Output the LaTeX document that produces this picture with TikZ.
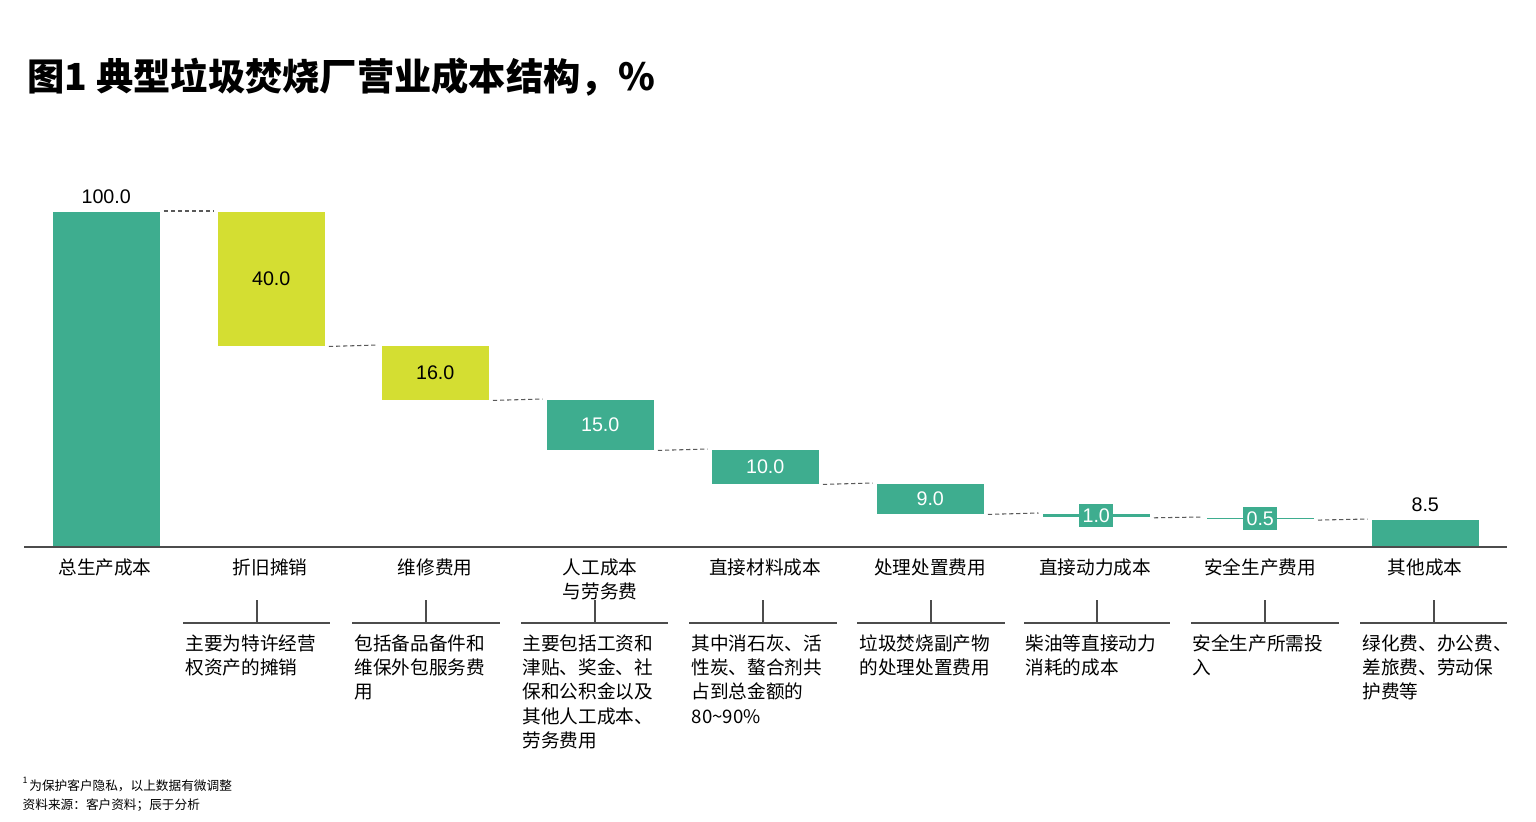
\documentclass[tikz,border=0pt]{standalone}
\usepackage{fontspec}
\setmainfont{Liberation Sans}
\newfontfamily\cjk{Noto Sans CJK SC}
\usetikzlibrary{positioning}
\definecolor{teal}{RGB}{62,173,143}
\definecolor{lime}{RGB}{212,222,50}
\tikzset{
  bar/.style={draw=none, inner sep=0pt, minimum width=1.07cm, anchor=north west},
  val/.style={font=\fontsize{5.6}{6}\selectfont, inner sep=1pt},
  link/.style={dash pattern=on 1.2pt off 0.8pt, gray!70!black, line width=0.3pt},
  cat/.style={font=\cjk\fontsize{5.3}{6.9}\selectfont, align=center, anchor=north, inner sep=0pt},
  desc/.style={font=\cjk\fontsize{5.3}{6.9}\selectfont, align=left, anchor=north west, inner sep=0pt},
  brk/.style={gray!60!black, line width=0.4pt}
}
\begin{document}
\begin{tikzpicture}[x=0.01cm, y=-0.01cm]
    \useasboundingbox (0,0) rectangle (1536,822);

    % Title
    \node (title) [anchor=west, inner sep=0pt, font=\cjk\bfseries\fontsize{10.6}{12}\selectfont] at (27,77) {图1 典型垃圾焚烧厂营业成本结构，\%};

    % Bars
    \node (bar1) [bar, fill=teal, minimum height=3.36cm] at (52,211) {};
    \node (bar2) [bar, fill=lime, minimum height=1.34cm] at (217,211) {};
    \node (bar3) [bar, fill=lime, minimum height=0.54cm] at (381,345) {};
    \node (bar4) [bar, fill=teal, minimum height=0.50cm] at (546,399) {};
    \node (bar5) [bar, fill=teal, minimum height=0.34cm] at (711,449) {};
    \node (bar6) [bar, fill=teal, minimum height=0.30cm] at (876,483) {};
    \node (bar7) [bar, fill=teal, minimum height=0.034cm] at (1042,513) {};
    \node (bar8) [bar, fill=teal, minimum height=0.017cm] at (1206,517) {};
    \node (bar9) [bar, fill=teal, minimum height=0.285cm] at (1371,519) {};

    % Values
    \node [val, above=1pt of bar1] {100.0};
    \node [val] at (bar2) {40.0};
    \node [val] at (bar3) {16.0};
    \node [val, text=white] at (bar4) {15.0};
    \node [val, text=white] at (bar5) {10.0};
    \node [val, text=white] at (bar6) {9.0};
    \node [val, text=white, fill=teal, minimum width=0.34cm, minimum height=0.23cm] at (bar7) {1.0};
    \node [val, text=white, fill=teal, minimum width=0.33cm, minimum height=0.23cm] at (bar8) {0.5};
    \node [val, above=1pt of bar9] {8.5};

    % Links
    \draw[link] ([xshift=1pt]bar1.north east) -- ([xshift=-1pt]bar2.north west);
    \draw[link] ([xshift=1pt]bar2.south east) -- ([xshift=-1pt]bar3.north west);
    \draw[link] ([xshift=1pt]bar3.south east) -- ([xshift=-1pt]bar4.north west);
    \draw[link] ([xshift=1pt]bar4.south east) -- ([xshift=-1pt]bar5.north west);
    \draw[link] ([xshift=1pt]bar5.south east) -- ([xshift=-1pt]bar6.north west);
    \draw[link] ([xshift=1pt]bar6.south east) -- ([xshift=-1pt]bar7.north west);
    \draw[link] ([xshift=1pt]bar7.south east) -- ([xshift=-1pt]bar8.north west);
    \draw[link] ([xshift=1pt]bar8.south east) -- ([xshift=-1pt]bar9.north west);

    % Axis
    \coordinate (axl) at (24,547);
    \coordinate (axr) at (1507,547);
    \draw[gray!60!black, line width=0.5pt] (axl) -- (axr);

    % Categories
    \node (cat1) [cat] at (105,558) {总生产成本};
    \node (cat2) [cat] at (270,558) {折旧摊销};
    \node (cat3) [cat] at (435,558) {维修费用};
    \node (cat4) [cat] at (600,558) {人工成本\\与劳务费};
    \node (cat5) [cat] at (765,558) {直接材料成本};
    \node (cat6) [cat] at (930,558) {处理处置费用};
    \node (cat7) [cat] at (1095,558) {直接动力成本};
    \node (cat8) [cat] at (1260,558) {安全生产费用};
    \node (cat9) [cat] at (1425,558) {其他成本};

    % Brackets
    \foreach \l/\r/\m in {183/330/257, 352/500/426, 521/668/595, 689/837/763,
                          857/1005/931, 1024/1170/1097, 1191/1339/1265, 1360/1507/1434}
        \draw[brk] (\l,623) -- (\r,623) (\m,623) -- (\m,600);

    % Descriptions
    \node (desc2) [desc] at (185,634) {主要为特许经营\\权资产的摊销};
    \node (desc3) [desc] at (354,634) {包括备品备件和\\维保外包服务费\\用};
    \node (desc4) [desc] at (522,634) {主要包括工资和\\津贴、奖金、社\\保和公积金以及\\其他人工成本、\\劳务费用};
    \node (desc5) [desc] at (691,634) {其中消石灰、活\\性炭、螯合剂共\\占到总金额的\\80\textasciitilde90\%};
    \node (desc6) [desc] at (859,634) {垃圾焚烧副产物\\的处理处置费用};
    \node (desc7) [desc] at (1025,634) {柴油等直接动力\\消耗的成本};
    \node (desc8) [desc] at (1192,634) {安全生产所需投\\入};
    \node (desc9) [desc] at (1362,634) {绿化费、办公费、\\差旅费、劳动保\\护费等};

    % Footnote
    \node (note) [anchor=west, font=\cjk\fontsize{3.6}{5.4}\selectfont, align=left, inner sep=0pt] at (22,794) {\textsuperscript{1}为保护客户隐私，以上数据有微调整\\资料来源：客户资料；辰于分析};
\end{tikzpicture}
\end{document}
